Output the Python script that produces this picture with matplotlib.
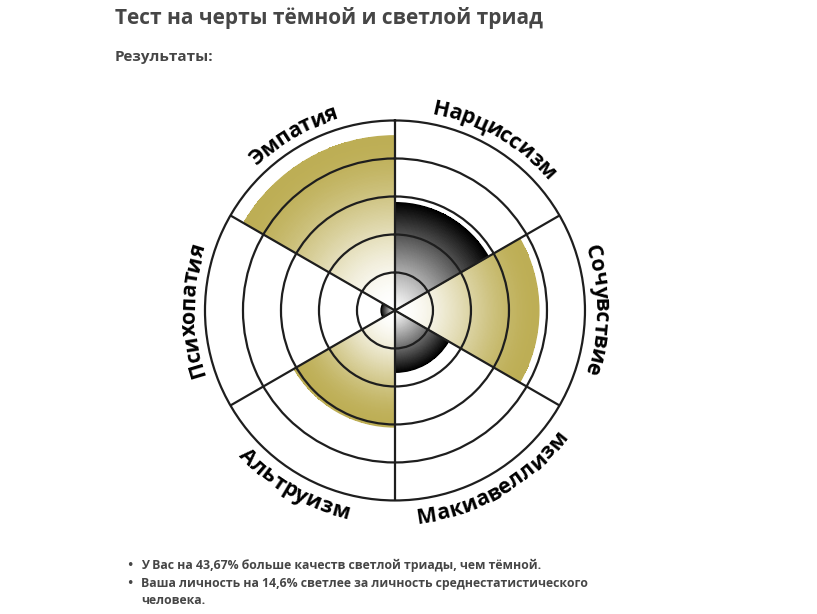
import numpy as np
import matplotlib
matplotlib.use("Agg")
import matplotlib.pyplot as plt
from matplotlib.colors import LinearSegmentedColormap
from matplotlib.font_manager import FontProperties

# data
traits = ["Нарциссизм", "Сочувствие", "Макиавеллизм", "Альтруизм", "Психопатия", "Эмпатия"]
dark_triad = [True, False, True, False, True, False]
scores = [2.84, 3.79, 1.63, 3.07, 0.37, 4.6]   # scale 0..5 (rings)
title = "Тест на черты тёмной и светлой триад"
subtitle = "Результаты:"
bullet_lines = ["У Вас на 43,67% больше качеств светлой триады, чем тёмной.",
                "Ваша личность на 14,6% светлее за личность среднестатистического",
                "человека."]
bullet_start = [True, True, False]

text_col = "#464646"
gold = "#bdae55"
cm_light = LinearSegmentedColormap.from_list("light", ["white", gold])
cm_dark = LinearSegmentedColormap.from_list("dark", ["white", "black"])

fig = plt.figure(figsize=(8.17, 6.14), dpi=100)
ax = fig.add_axes([0.2509, 0.1849, 0.4651, 0.6189], projection="polar")
ax.set_theta_zero_location("N")
ax.set_theta_direction(-1)
ax.set_ylim(0, 5)

n = len(traits)
step = 2 * np.pi / n
for i in range(n):
    cmap = cm_dark if dark_triad[i] else cm_light
    th = np.linspace(i * step, (i + 1) * step, 61)
    rr = np.linspace(0, scores[i], 121)
    T, R = np.meshgrid(th, rr)
    x = (rr[:-1] + rr[1:]) / 2 / scores[i]
    if dark_triad[i]:
        f = x ** 1.1
    else:
        f = x * x * (3 - 2 * x)   # pale centre, gold edge
    C = np.repeat(f[:, None], len(th) - 1, axis=1)
    ax.pcolormesh(T, R, C, cmap=cmap, vmin=0, vmax=1, shading="flat",
                  edgecolors="none", antialiased=False, zorder=1)
    # smooth outer edge
    ax.bar((i + 0.5) * step, scores[i], width=step, bottom=0, facecolor="none",
           edgecolor=cmap(1.0), linewidth=0.8, zorder=1.2)

# grid
ax.set_rgrids([1, 2, 3, 4], labels=[""] * 4)
ax.set_thetagrids(np.arange(0, 360, 60), labels=[""] * 6)
ax.grid(True, color="#1e1e1e", linewidth=1.6)
ax.set_axisbelow(False)
ax.spines["polar"].set_color("#1e1e1e")
ax.spines["polar"].set_linewidth(1.6)
ax.tick_params(length=0)

# curved labels
fp = FontProperties(family="Open Sans", weight="bold", size=15.5)
fig.canvas.draw()
rend = fig.canvas.get_renderer()
px_per_unit = ax.get_window_extent().width / 10.0

def width(s):
    if not s:
        return 0.0
    return rend.get_text_width_height_descent(s, fp, ismath=False)[0]

for i, lab in enumerate(traits):
    phi0 = (i + 0.5) * 60.0
    outward = 270 <= phi0 or phi0 <= 90
    r_base = 200.0 if outward else 214.0
    r_mid = r_base + 6 if outward else r_base - 6
    total = width(lab)
    for k, ch in enumerate(lab):
        s = (width(lab[:k]) + width(lab[:k + 1])) / 2 - total / 2
        dphi = np.degrees(s / r_mid)
        if outward:
            phi = phi0 + dphi
            rot = -phi
        else:
            phi = phi0 - dphi
            rot = 180 - phi
        ax.text(np.radians(phi), r_base / px_per_unit, ch, fontproperties=fp,
                rotation=rot, rotation_mode="anchor", ha="center", va="baseline",
                color="black", clip_on=False)

# page texts
fig.text(115 / 817, 1 - 18 / 614, title, fontfamily="Open Sans", fontweight="bold",
         fontsize=15, color=text_col, va="center")
fig.text(115 / 817, 1 - 57 / 614, subtitle, fontfamily="Open Sans", fontweight="bold",
         fontsize=11, color=text_col, va="center")
ys = [565, 583, 601]
for y, line, first in zip(ys, bullet_lines, bullet_start):
    if first:
        fig.text(130 / 817, 1 - y / 614, "•", fontfamily="DejaVu Sans", fontsize=9,
                 color=text_col, va="center", ha="center")
    fig.text(141 / 817, 1 - y / 614, line, fontfamily="Open Sans", fontweight="bold",
             fontsize=8.8, color=text_col, va="center")

fig.savefig("out.png", dpi=100)
